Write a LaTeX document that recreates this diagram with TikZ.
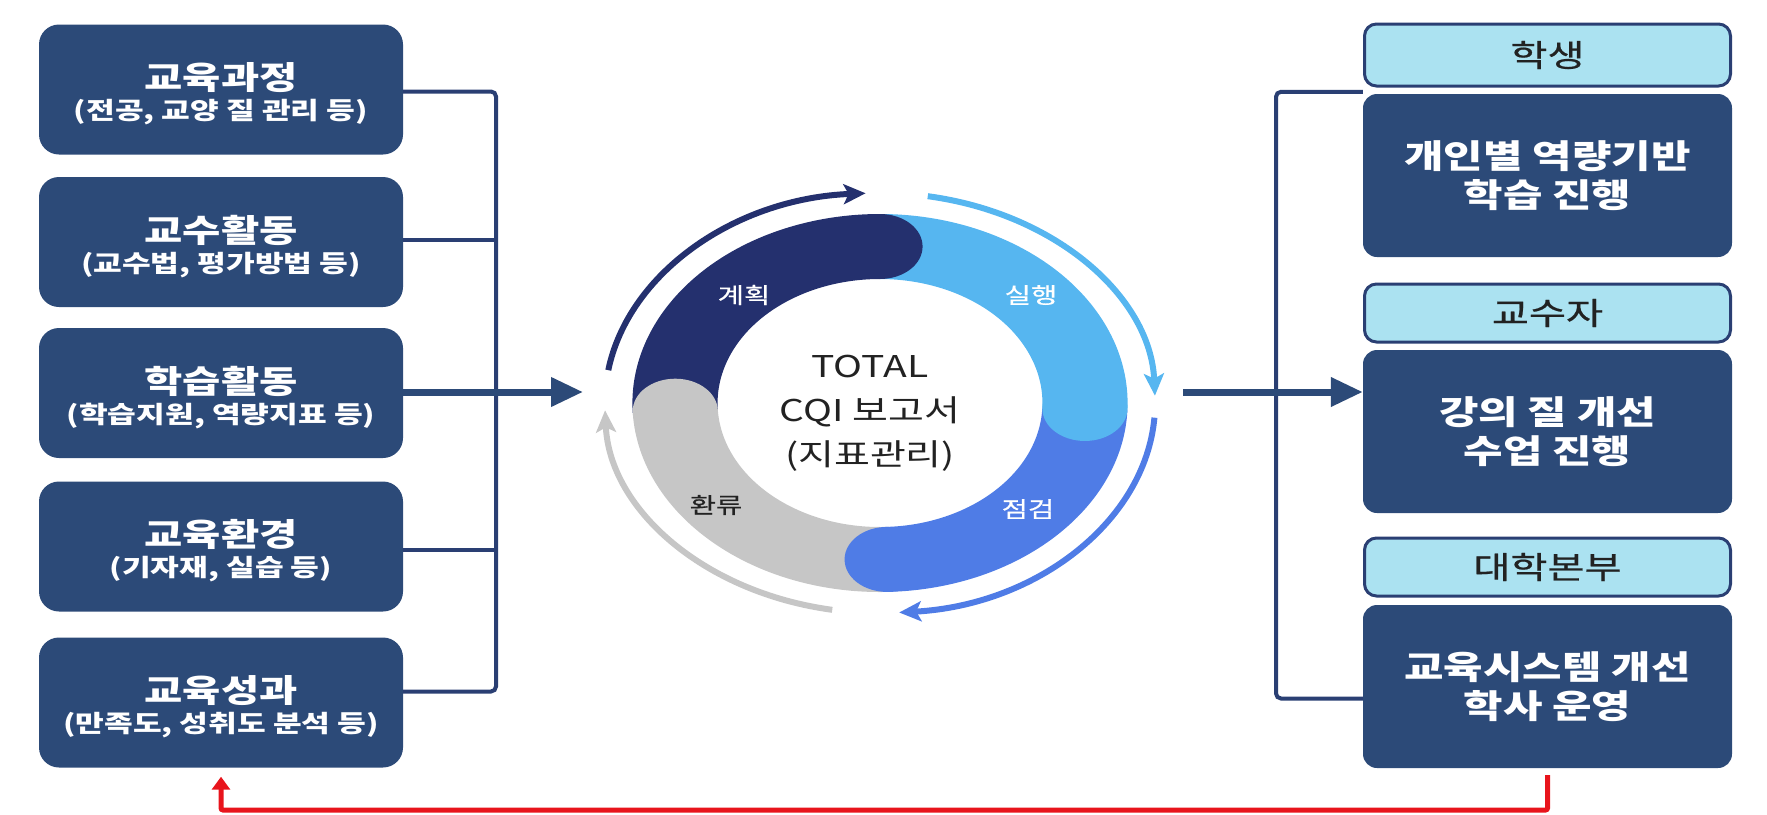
\documentclass[tikz,border=0pt]{standalone}
\usepackage{fontspec}
\setmainfont[FakeStretch=1.3]{Noto Sans CJK KR}
\newfontfamily\krmed[FakeStretch=1.3, FakeBold=0.6]{Noto Sans CJK KR}
\usetikzlibrary{arrows.meta}
\definecolor{boxnavy}{HTML}{2C4A78}
\definecolor{linenavy}{HTML}{2A3F73}
\definecolor{hdrfill}{HTML}{ABE2F1}
\definecolor{segnavy}{HTML}{24306E}
\definecolor{seglb}{HTML}{56B6F0}
\definecolor{segblue}{HTML}{4F7CE6}
\definecolor{seggray}{HTML}{C6C6C6}
\definecolor{redline}{HTML}{E8141C}
\definecolor{txtdark}{HTML}{222222}
\tikzset{
  lbox/.style={fill=boxnavy, rounded corners=20pt, minimum width=364pt, minimum height=130pt, inner sep=0pt},
  ltitle/.style={text=white, inner sep=0pt, font=\fontsize{32}{36}\selectfont\bfseries},
  lsub/.style={text=white, inner sep=0pt, font=\fontsize{24}{28}\selectfont\bfseries},
  hbox/.style={fill=hdrfill, draw=linenavy, line width=3pt, rounded corners=12pt, minimum width=366pt, inner sep=0pt, text=txtdark, font=\fontsize{31}{36}\krmed},
  bbox/.style={fill=boxnavy, rounded corners=14pt, minimum width=369pt, minimum height=163pt, inner sep=0pt, align=center, text=white, font=\fontsize{33}{39}\selectfont\bfseries},
  brk/.style={draw=linenavy, line width=4pt, rounded corners=5pt},
  marrow/.style={draw=boxnavy, line width=7pt, -{Triangle[length=32pt, width=28pt]}},
  redarrow/.style={draw=redline, line width=5pt, -{Triangle[length=13pt, width=18pt]}},
  ringarrow/.style={line width=6pt, -{Stealth[length=22pt, width=20pt, inset=5pt]}},
  seglabel/.style={inner sep=0pt, font=\fontsize{22}{26}\krmed},
}
\begin{document}
\begin{tikzpicture}[x=1pt, y=-1pt]
\useasboundingbox (0,0) rectangle (1767,814);

% left boxes
\node[lbox] (b1) at (221,89.5) {};
\node[lbox] (b2) at (221,242) {};
\node[lbox] (b3) at (221,393) {};
\node[lbox] (b4) at (221,546.5) {};
\node[lbox] (b5) at (221,702.5) {};
\node[ltitle] (b1t) at ([yshift=12pt]b1.center) {교육과정};
\node[lsub]   (b1s) at ([yshift=-23pt]b1.center) {(전공, 교양 질 관리 등)};
\node[ltitle] (b2t) at ([yshift=12pt]b2.center) {교수활동};
\node[lsub]   (b2s) at ([yshift=-23pt]b2.center) {(교수법, 평가방법 등)};
\node[ltitle] (b3t) at ([yshift=12pt]b3.center) {학습활동};
\node[lsub]   (b3s) at ([yshift=-23pt]b3.center) {(학습지원, 역량지표 등)};
\node[ltitle] (b4t) at ([yshift=12pt]b4.center) {교육환경};
\node[lsub]   (b4s) at ([yshift=-23pt]b4.center) {(기자재, 실습 등)};
\node[ltitle] (b5t) at ([yshift=12pt]b5.center) {교육성과};
\node[lsub]   (b5s) at ([yshift=-23pt]b5.center) {(만족도, 성취도 분석 등)};

% left bracket
\coordinate (brkL) at (496,0);
\coordinate (ringL) at (583,392);
\draw[brk] ([yshift=-2pt]b1.east) -- ([yshift=-2pt]b1.east -| brkL) -- ([yshift=11pt]b5.east -| brkL) -- ([yshift=11pt]b5.east);
\draw[brk] ([yshift=2pt]b2.east) -- ([yshift=2pt]b2.east -| brkL);
\draw[brk] ([yshift=-3pt]b4.east) -- ([yshift=-3pt]b4.east -| brkL);
\draw[marrow] (b3.east |- ringL) -- (ringL);

% ring
\begin{scope}[shift={(880,403)}, xscale=1.31, yscale=-1]
  \fill[segnavy] (183:189) arc[start angle=183, end angle=90, radius=189] -- (90:124) arc[start angle=90, end angle=183, radius=124] -- cycle;
  \fill[seglb] (90:189) arc[start angle=90, end angle=-2, radius=189] -- (-2:124) arc[start angle=-2, end angle=90, radius=124] -- cycle;
  \fill[segblue] (-2:189) arc[start angle=-2, end angle=-88, radius=189] -- (-88:124) arc[start angle=-88, end angle=-2, radius=124] -- cycle;
  \fill[seggray] (-88:189) arc[start angle=-88, end angle=-177, radius=189] -- (-177:124) arc[start angle=-177, end angle=-88, radius=124] -- cycle;
  \fill[segnavy] (90:156.5) circle[radius=32.5];
  \fill[seglb] (-2:156.5) circle[radius=32.5];
  \fill[segblue] (-88:156.5) circle[radius=32.5];
  \fill[seggray] (-177:156.5) circle[radius=32.5];
  \draw[ringarrow, segnavy] (171:210) arc[start angle=171, end angle=93, radius=210];
  \draw[ringarrow, seglb] (80:210) arc[start angle=80, end angle=2, radius=210];
  \draw[ringarrow, segblue] (-4:210) arc[start angle=-4, end angle=-86, radius=210];
  \draw[ringarrow, seggray] (-100:210) arc[start angle=-100, end angle=-178, radius=210];
\end{scope}
\node[inner sep=0pt, align=center, text=txtdark, font=\fontsize{30}{44}\selectfont] (cqi) at (870,413) {TOTAL\\CQI 보고서\\(지표관리)};
\node[seglabel, text=white] (s1) at (744,295) {계획};
\node[seglabel, text=white] (s2) at (1031,295) {실행};
\node[seglabel, text=white] (s3) at (1028,509) {점검};
\node[seglabel, text=txtdark] (s4) at (716,505) {환류};

% right boxes
\node[hbox, minimum height=62pt] (r1h) at (1547.5,55) {학생};
\node[bbox] (r1) at (1547.5,175.5) {개인별 역량기반\\학습 진행};
\node[hbox, minimum height=58pt] (r2h) at (1547.5,313) {교수자};
\node[bbox] (r2) at (1547.5,431.5) {강의 질 개선\\수업 진행};
\node[hbox, minimum height=58pt] (r3h) at (1547.5,567) {대학본부};
\node[bbox] (r3) at (1547.5,686.5) {교육시스템 개선\\학사 운영};

% right bracket
\coordinate (brkR) at (1276,0);
\coordinate (ringR) at (1183,392);
\draw[brk] ([yshift=2pt]r1.north west) -- ([yshift=2pt]r1.north west -| brkR) -- ([yshift=-12pt]r3.west -| brkR) -- ([yshift=-12pt]r3.west);
\draw[marrow] (ringR) -- (ringR -| r2.west);

% red feedback
\coordinate (redY) at (0,810);
\draw[redarrow, rounded corners=2pt] ([yshift=-7pt]r3.south) -- (r3.south |- redY) -- (b5.south |- redY) -- ([yshift=-9pt]b5.south);
\end{tikzpicture}
\end{document}
